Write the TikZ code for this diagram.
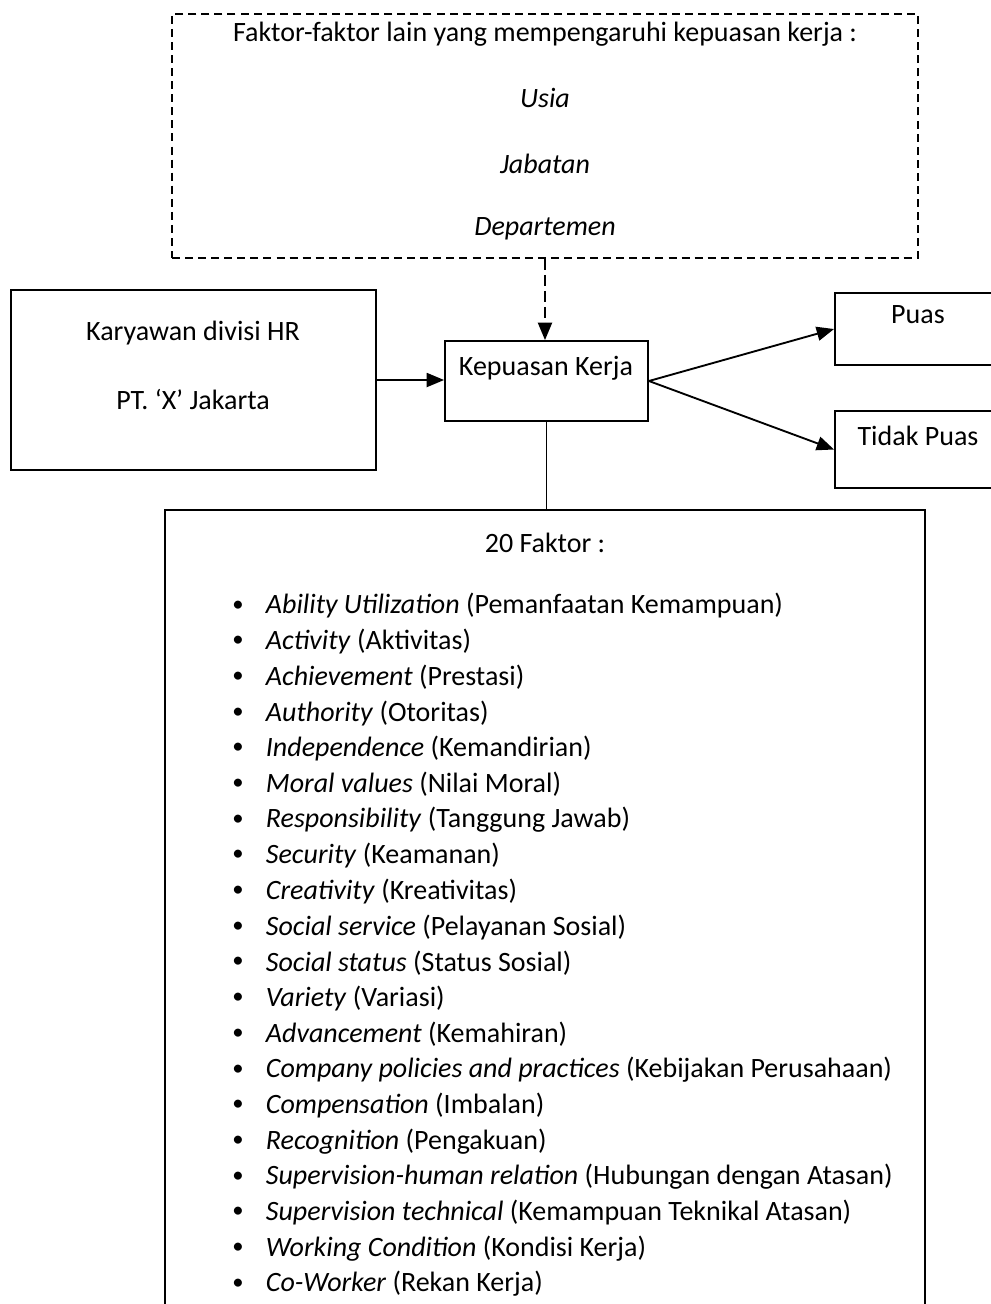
\documentclass[tikz,border=0pt]{standalone}
\usepackage{fontspec}
\setmainfont{Carlito}
\usetikzlibrary{positioning,arrows.meta,fit}

\begin{document}
\begin{tikzpicture}[x=0.75pt, y=-0.75pt, font=\fontsize{21}{25}\selectfont, line width=1.4pt,
  >={Triangle[length=13pt, width=10.5pt]},
  box/.style={draw, inner sep=0pt},
  dashbox/.style={draw, dash pattern=on 6pt off 3.8pt, inner sep=0pt}]

\useasboundingbox (0,0) rectangle (991,1304);
\clip (0,0) rectangle (991,1304);

% other factors (dashed box)
\node[dashbox, fit={(172,14) (918,258)}] (lain) {};
\node (lainjudul) at (545,34) {Faktor-faktor lain yang mempengaruhi kepuasan kerja :};
\node (usia) at (545,98) {\textit{Usia}};
\node (jabatan) at (545,164) {\textit{Jabatan}};
\node (departemen) at (545,229) {\textit{Departemen}};

%employees
\node[box, fit={(11,290) (376,470)}] (hr) {};
\node (hr1) at (193,333) {Karyawan divisi HR};
\node (hr2) at (193,400) {PT. `X' Jakarta};

%job satisfaction
\node[box, fit={(445,341) (648,421)}] (kep) {};
\node (kepteks) at (546,368) {Kepuasan Kerja};

%results
\node[box, fit={(835,293) (1001,365)}] (puas) {};
\node (puasteks) at (918,315) {Puas};
\node[box, fit={(835,411) (1001,488)}] (tidak) {};
\node (tidakteks) at (918,436) {Tidak Puas};

%20 factors
\node[box, fit={(165,510) (925,1320)}] (faktor) {};
\node (faktorjudul) at (545,543) {20 Faktor :};
\foreach \en/\id [count=\i from 0] in {
  Ability Utilization/Pemanfaatan Kemampuan,
  Activity/Aktivitas,
  Achievement/Prestasi,
  Authority/Otoritas,
  Independence/Kemandirian,
  Moral values/Nilai Moral,
  Responsibility/Tanggung Jawab,
  Security/Keamanan,
  Creativity/Kreativitas,
  Social service/Pelayanan Sosial,
  Social status/Status Sosial,
  Variety/Variasi,
  Advancement/Kemahiran,
  Company policies and practices/Kebijakan Perusahaan,
  Compensation/Imbalan,
  Recognition/Pengakuan,
  Supervision-human relation/Hubungan dengan Atasan,
  Supervision technical/Kemampuan Teknikal Atasan,
  Working Condition/Kondisi Kerja,
  Co-Worker/Rekan Kerja}
{
  \node[font=\fontsize{17}{20}\selectfont] (dot\i) at (238,606+35.68*\i) {\textbullet};
  \node[anchor=west, inner sep=0pt] (item\i) at (265,606+35.68*\i) {\textit{\en} (\id)};
}

% connections
\draw[->, dash pattern=on 8pt off 4pt] (lain.south) -- (lain.south |- kep.north);
\draw[->] (hr.east) -- (hr.east -| kep.west);
\draw[->] (kep.east) -- (puas.west);
\draw[->] (kep.east) -- (tidak.west);
\draw (kep.south) -- (kep.south |- faktor.north);

\end{tikzpicture}
\end{document}
